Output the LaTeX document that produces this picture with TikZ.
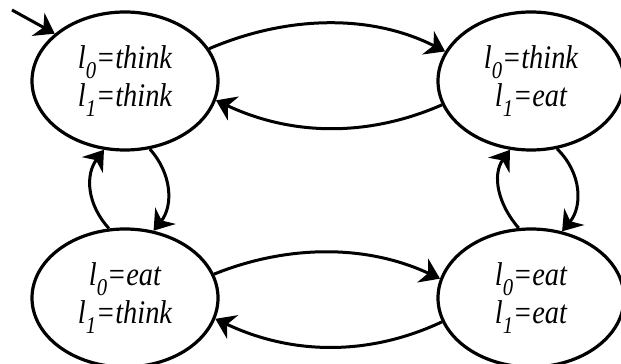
\documentclass[tikz,border=0pt]{standalone}
\usepackage{fontspec}
\usetikzlibrary{shapes.geometric,arrows.meta}
\newfontfamily\statefont{Liberation Serif Italic}[FakeStretch=0.86]
% variable name with a lowered index
\newcommand{\locvar}[1]{l\raisebox{-0.3em}{\fontsize{24}{24}\selectfont #1}}
\begin{document}
\begin{tikzpicture}[x=1pt,y=1pt,
  state/.style={draw, ellipse, line width=3.2pt, inner sep=0pt,
    minimum width=186pt, minimum height=138pt, align=center,
    font=\statefont\fontsize{33}{38}\selectfont},
  trans/.style={line width=3pt,
    -{Stealth[length=19pt,width=26pt,inset=6pt]}}]
\useasboundingbox (0,0) rectangle (621,364);

\node[state] (tt) at (125,283) {\locvar{0}=think\\\locvar{1}=think};
\node[state] (te) at (531,283) {\locvar{0}=think\\\locvar{1}=eat};
\node[state] (et) at (125,66)  {\locvar{0}=eat\\\locvar{1}=think};
\node[state] (ee) at (531,66)  {\locvar{0}=eat\\\locvar{1}=eat};

% initial marker
\coordinate (init) at (12,354);
\draw[trans] (init) -- (tt.146.8);

% top row
\draw[trans] (tt.21) .. controls +(77,33) and +(-75,38) .. (te.161.4);
\draw[trans] (te.195.1) .. controls +(-72,-31.5) and +(78,-36.5) .. (tt.-12.3);

% bottom row
\draw[trans] (et.15.9) .. controls +(72,29) and +(-75,35) .. (ee.168.2);
\draw[trans] (ee.195.1) .. controls +(-72,-33.8) and +(78,-36.8) .. (et.-13.6);

% left column
\draw[trans] (et.103.9) .. controls +(-22,24) and +(-19,-25) .. (tt.253.8);
\draw[trans] (tt.290.4) .. controls +(22,-24) and +(20,25) .. (et.67.6);

% right column
\draw[trans] (ee.100.7) .. controls +(-21,24) and +(-18,-25) .. (te.253);
\draw[trans] (te.291) .. controls +(24.7,-24) and +(20.7,25) .. (ee.65.8);
\end{tikzpicture}
\end{document}
